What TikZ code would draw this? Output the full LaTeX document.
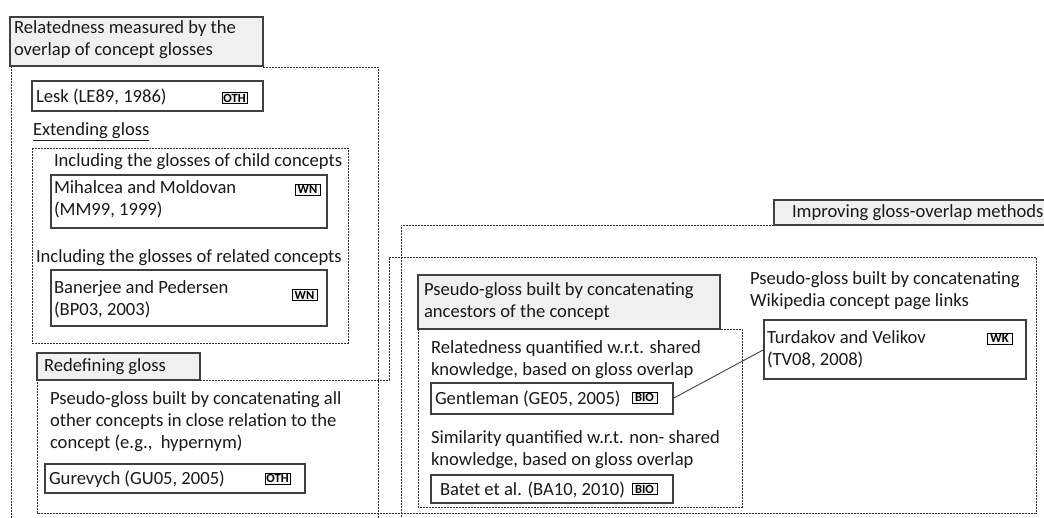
\documentclass[tikz,border=0pt]{standalone}
\usepackage{fontspec}
\setmainfont{Carlito}
\definecolor{txt}{HTML}{1A1A1A}
\definecolor{boxline}{HTML}{404040}
\definecolor{titlefill}{HTML}{F0F0F0}
\definecolor{dashcol}{HTML}{303030}
\begin{document}
\begin{tikzpicture}[x=1pt,y=-1pt,
  every node/.style={inner sep=0pt, outer sep=0pt},
  lbl/.style={anchor=base west, align=left, text=txt, font=\fontsize{18.6}{22}\selectfont},
  refbox/.style={draw=boxline, line width=1.1pt, anchor=north west, fill=white},
  titlebox/.style={draw=boxline, line width=1.3pt, fill=titlefill, anchor=north west},
  grp/.style={draw=dashcol, line width=0.95pt, dash pattern=on 2pt off 1pt},
  badge/.style={draw=black, line width=0.9pt, fill=gray!8, font=\fontsize{12.5}{12}\selectfont\bfseries, text=black, minimum width=25pt, minimum height=11pt, inner xsep=1pt, inner ysep=0pt, anchor=west},
  link/.style={draw=boxline, line width=0.9pt}]
\useasboundingbox (0,0) rectangle (1044,518);
\clip (0,0) rectangle (1044,518);
\fill[white] (0,0) rectangle (1044,518);

% --- group outlines ---
\draw[grp] (263,67) -- (378,67) -- (378,530) -- (11,530) -- (11,66);
\draw[grp] (774,225) -- (401,225) -- (401,530) -- (1060,530) -- (1060,225);
\draw[grp] (200,380) -- (389,380) -- (389,257) -- (1036,257) -- (1036,513) -- (37,513) -- (37,380);
\draw[grp] (32,148) rectangle (348,343);
\draw[grp] (418,329) rectangle (742,507);

% --- title boxes ---
\node[titlebox, minimum width=253pt, minimum height=49pt] (t1) at (10,17) {};
\node[lbl] (t1txt) at (14,56) {Relatedness measured by the\\overlap of concept glosses};
\node[titlebox, minimum width=163pt, minimum height=27pt] (t2) at (37,353) {};
\node[lbl] (t2txt) at (44,372) {Redefining gloss};
\node[titlebox, minimum width=290pt, minimum height=25pt] (t3) at (774,200) {};
\node[lbl] (t3txt) at (792,218) {Improving gloss-overlap methods};
\node[titlebox, minimum width=302pt, minimum height=54pt] (t4) at (418,275) {};
\node[lbl] (t4txt) at (424,318) {Pseudo-gloss built by concatenating\\ancestors of the concept};

% --- left column ---
\node[refbox, minimum width=231pt, minimum height=30pt] (lesk) at (32,81) {};
\node[lbl] (lesktxt) at (36,103) {Lesk (LE89, 1986)};
\node[badge] (leskb) at (222,98) {OTH};
\node[lbl] (ext) at (33,136) {\underline{Extending gloss}};
\node[lbl] (child) at (54,167) {Including the glosses of child concepts};
\node[refbox, minimum width=276pt, minimum height=53pt] (mm) at (51,175) {};
\node[lbl] (mmtxt) at (54,216) {Mihalcea and Moldovan\\(MM99, 1999)};
\node[badge] (mmb) at (295,189.5) {WN};
\node[lbl] (rel) at (36,263) {Including the glosses of related concepts};
\node[refbox, minimum width=276pt, minimum height=56pt] (bp) at (51,270) {};
\node[lbl] (bptxt) at (54,316) {Banerjee and Pedersen\\(BP03, 2003)};
\node[badge] (bpb) at (292,295) {WN};
\node[lbl] (redef) at (50,448) {Pseudo-gloss built by concatenating all\\other concepts in close relation to the\\concept (e.g.,\ \ hypernym)};
\node[refbox, minimum width=260pt, minimum height=29pt] (gu) at (45,464) {};
\node[lbl] (gutxt) at (49,484) {Gurevych (GU05, 2005)};
\node[badge] (gub) at (265,478.5) {OTH};

% --- middle column ---
\node[lbl] (relq) at (431,376) {Relatedness quantified w.r.t. shared\\knowledge, based on gloss overlap};
\node[refbox, minimum width=242pt, minimum height=31pt] (ge) at (431,383) {};
\node[lbl] (getxt) at (435,404) {Gentleman (GE05, 2005)};
\node[badge] (geb) at (632,397.5) {BIO};
\node[lbl] (simq) at (431,465) {Similarity quantified w.r.t. non- shared\\knowledge, based on gloss overlap};
\node[refbox, minimum width=242pt, minimum height=28pt] (ba) at (431,475) {};
\node[lbl] (batxt) at (440,495) {Batet et al. (BA10, 2010)};
\node[badge] (bab) at (632,489) {BIO};

% --- right column ---
\node[lbl] (wiki) at (750,307) {Pseudo-gloss built by concatenating\\Wikipedia concept page links};
\node[refbox, minimum width=262pt, minimum height=59pt] (tv) at (764,320) {};
\node[lbl] (tvtxt) at (767,366) {Turdakov and Velikov\\(TV08, 2008)};
\node[badge] (tvb) at (987,338.5) {WK};

% --- connector ---
\draw[link] (ge.east) -- (tv.west);
\end{tikzpicture}
\end{document}
